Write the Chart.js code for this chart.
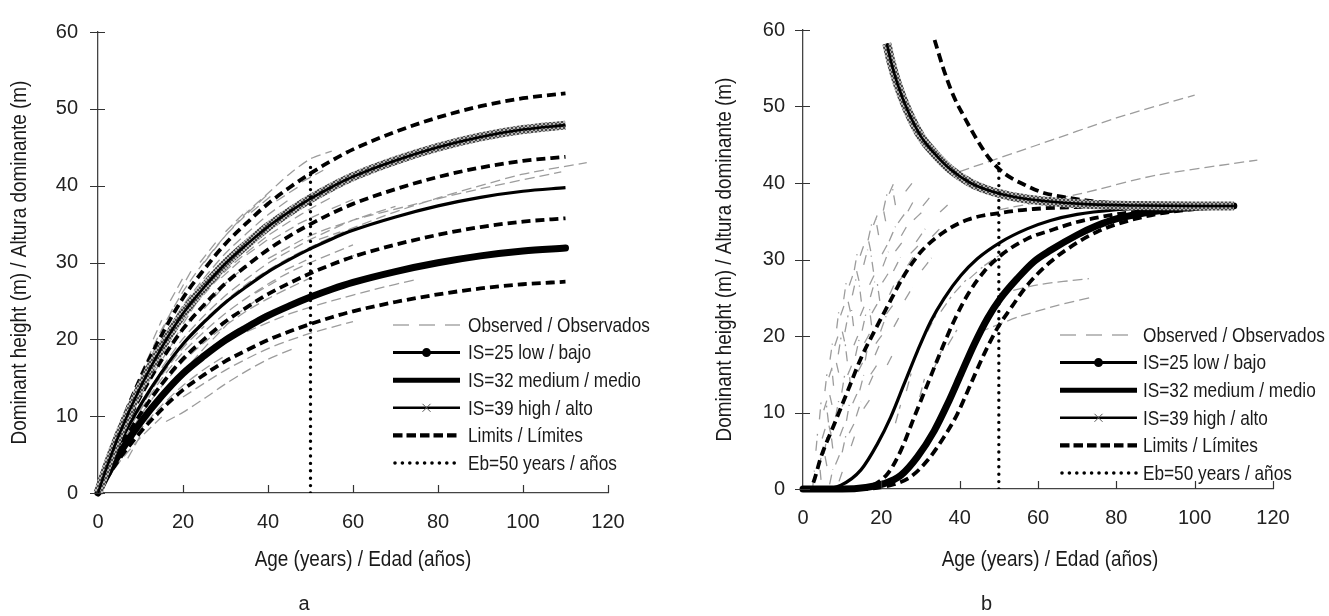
<!DOCTYPE html>
<html><head><meta charset="utf-8">
<script src="https://cdn.jsdelivr.net/npm/chart.js@4.4.1/dist/chart.umd.min.js"></script>
<style>
html,body{margin:0;padding:0;background:#fff;}
body{width:1329px;height:616px;position:relative;overflow:hidden;}
#wa{position:absolute;left:0;top:0;width:664px;height:616px;}
#wb{position:absolute;left:700px;top:0;width:629px;height:616px;}
canvas{display:block;}
</style></head><body>
<div id="wa"><canvas id="ca" width="664" height="616"></canvas></div>
<div id="wb"><canvas id="cb" width="629" height="616"></canvas></div>
<script>
// ---------- axis ticks ----------
const X_MIN = 0, X_MAX = 120, X_STEP = 20;
const Y_MIN = 0, Y_MAX = 60, Y_STEP = 10;

// ---------- labels ----------
const X_TITLE = 'Age (years) / Edad (años)';
const Y_TITLE = 'Dominant height (m) / Altura dominante (m)';
const LEGEND_LABELS = ['Observed / Observados','IS=25 low / bajo','IS=32 medium / medio','IS=39 high / alto','Limits / Límites','Eb=50 years / años'];

// ---------- panel a : curves ----------
const A_AGE  = [0,2,5,10,15,20,25,30,35,40,45,50,55,60,70,80,90,100,110];
const A_L1   = [0,1.87,4.4,7.92,10.89,13.42,15.4,17.16,18.59,19.91,21.01,22,22.88,23.65,24.86,25.85,26.62,27.17,27.5];
const A_IS25 = [0,2.17,5.1,9.18,12.62,15.56,17.85,19.89,21.55,23.08,24.35,25.5,26.52,27.41,28.82,29.96,30.86,31.49,31.88];
const A_L2   = [0,2.43,5.72,10.3,14.16,17.45,20.02,22.31,24.17,25.88,27.31,28.6,29.74,30.75,32.32,33.6,34.61,35.32,35.75];
const A_IS32 = [0,2.7,6.36,11.45,15.74,19.4,22.26,24.8,26.87,28.78,30.37,31.8,33.07,34.19,35.93,37.37,38.48,39.27,39.75];
const A_L3   = [0,2.98,7,12.6,17.33,21.35,24.5,27.3,29.58,31.68,33.43,35,36.4,37.63,39.55,41.13,42.35,43.23,43.75];
const A_IS39 = [0,3.26,7.66,13.79,18.96,23.36,26.81,29.87,32.36,34.66,36.58,38.3,39.83,41.17,43.28,45,46.34,47.3,47.88];
const A_L4   = [0,3.54,8.32,14.98,20.59,25.38,29.12,32.45,35.15,37.65,39.73,41.6,43.26,44.72,47.01,48.88,50.34,51.38,52.0];
const A_EB_AGE = [50,50];
const A_EB_H   = [0,42.5];

// panel a : observed profiles (ages / heights)
const A_OBS_AGE = [
  [0,5,10,15,20,25,30,35,40,45,50,55,60,70,80,90,100,115],
  [40,50,60,74,90,109],
  [16,20,25,30,35,40,46],
  [0,5,10,15,20,25,30,35,40,45],
  [10,15,20,25,30,35,40],
  [5,10,15,20,25,30,35,40,45,50,55],
  [0,5,10,15,20,25,30,35],
  [10,15,20,25,30,35,40,45,50,60],
  [5,10,15,20,25,30,35,40,45,50],
  [0,5,10,15,20,25,30,35,40],
  [5,10,15,20,25,30],
  [20,25,30,35,40,45,50,55,60],
  [15,20,25,30,35,40,45,50,60,70],
  [0,5,10,15,20,25],
  [25,30,35,40,45,50,55],
  [0,5,10,15],
  [35,45,55,65,75],
  [20,30,40,50,60]
];
const A_OBS_H = [
  [0,5.5,11,15.5,19.5,22.5,25,27.2,29,30.6,32,33.3,34.5,36.6,38.4,40,41.5,43],
  [30.5,33.5,35.5,37.5,39.6,41.8],
  [9.3,10.5,12.3,14.2,15.9,17.4,18.8],
  [0,8,14.4,19.8,24.4,28,31.2,33.8,36.2,38.2],
  [15.5,21.3,26.2,30.1,33.5,36.3,38.9],
  [7.4,13.3,18.3,22.6,25.9,28.9,31.3,33.5,35.3,37,38.5],
  [0,7,12.6,17.3,21.4,24.5,27.3,29.6],
  [10.8,14.9,18.3,21,23.4,25.4,27.2,28.7,30,32.3],
  [5.6,10.1,13.9,17.1,19.6,21.8,23.7,25.3,26.7,28],
  [0,5.2,9.4,12.9,15.9,18.2,20.3,22,23.5],
  [4.6,8.3,11.4,14,16.1,17.9],
  [23.5,27,30,32.5,34.8,36.8,38.5,40,41.4],
  [16.3,20.1,23.1,25.7,27.9,29.9,31.5,33,35.5,37.3],
  [0,6.2,11.2,15.3,18.9,21.7],
  [30,33.5,36.5,39,41.5,43.5,44.5],
  [0,4,7.2,9.9],
  [21,23.3,25,26.5,27.8],
  [12.5,16,18.8,20.8,22.3]
];
// panel a : short observed segments (start age, start height, end age, end height)
const A_SEG_A0 = [6,8,7,12,14,11,16,18,15,20,22,19,25,27,24,29,32,30,35,37,36,41,44,42,47,48,52,55,58,28,3,4,9,13,17];
const A_SEG_H0 = [6,10,4.5,13,10,16,18,14,21,22,17,26,24,20,30,28,23,34,31,26,36.5,33,29,38,35,40.5,33,37,30.5,19.5,3,7,12,20,25];
const A_SEG_A1 = [9,11,10,15,17,14,19,21,18,24,26,22,29,31,28,34,37,35,40,42,41,46,49,47,52,53,57,60,63,33,5,6,11,15,20];
const A_SEG_H1 = [9.5,13.5,7.5,16,12.5,19.5,21,16.5,24.5,25.5,19.5,29,26.5,22.3,32.8,30.5,25,36.8,33,27.6,38.8,34.6,30.3,39.8,36.3,42,34,38.2,31.4,21.3,5.5,10,14.5,22.5,28];

// ---------- panel b : curves ----------
const B_IS39_AGE = [21.4,22.4,24.1,26.7,30.1,33.5,37.7,42.8,47.9,54.7,61.5,73.4,85,100,110];
const B_IS39_H   = [58.25,56,53,49.5,46.1,43.9,41.75,40,38.95,38.1,37.65,37.2,37.05,37,37];
const B_L4_AGE   = [33.6,36,38.5,41.1,44.5,47.9,51.3,56.4,61.5,67.4,73.4,85,100,110];
const B_L4_H     = [58.7,54.7,51.3,48.7,45.6,43,41.3,39.8,38.7,38.1,37.65,37.2,37.05,37];
const B_L3_AGE   = [0,1.5,2.5,4.6,8,11.4,14.8,18.2,22,25.8,30.1,36,42,50.4,58.9,70,80,95,110];
const B_L3_H     = [0,0,0.65,4.2,8.5,12.8,17.1,20.6,24.3,27.9,31,33.6,35.2,36.1,36.6,36.85,36.95,37,37];
const B_IS32_AGE = [0,5,9.7,14.8,19,22.4,25.8,29.2,32.6,36,40.3,44.5,50.4,57.2,63.2,70,80,90,100,110];
const B_IS32_H   = [0,0,0.5,2.5,5.9,9.4,13.7,18,21.9,24.9,27.9,30.1,32.25,34,35.1,35.9,36.5,36.8,36.95,37];
const B_L2_AGE   = [0,10,16.5,21.6,25,28.4,31.8,35.2,38.5,42,46.2,50.4,57.2,63.2,70,80,90,100,110];
const B_L2_H     = [0,0,0.3,2,5.05,9.4,13.7,18,21.9,25.35,28.4,30.5,32.7,33.8,34.9,35.9,36.5,36.85,37];
const B_IS25_AGE = [0,10,16,20.7,25,29.2,33.5,36.9,40.3,43.7,47.1,50.4,54.7,58.9,63.2,70,75,80,90,100,110];
const B_IS25_H   = [0,0,0.2,0.7,1.8,4.2,7.6,11.1,15,18.9,22.3,24.9,27.5,29.7,31.2,33.2,34.4,35.3,36.3,36.8,37];
const B_L1_AGE   = [0,15,22.4,27.5,31.8,36,39.4,42.8,46.2,49.6,53,57.2,63.2,70,75,80,90,100,110];
const B_L1_H     = [0,0,0.5,1.6,3.75,6.8,9.8,13.7,17.6,21,23.6,26.6,29.7,32.2,33.6,34.6,35.9,36.6,36.9];
const B_EB_AGE = [50,50];
const B_EB_H   = [0,43];

// panel b : short observed strokes (start age, start height, end age, end height)
const B_SEG_A0 = [2.5,4.6,6.8,9.2, 3.3,5.4,7.6,10.0,12.3, 4.2,6.5,8.3,11.1,13.6, 5.6,7.8,9.9,12.2,14.5,16.8,
  6.9,9.0,11.3,13.4,15.9,18.4,21.5, 8.6,10.7,12.9,15.1,17.5,19.8,23.2, 10.4,12.6,14.9,17.2,19.6,22.1,26.0,
  13.1,15.5,18.0,20.4,23.1,26.7,30.4, 16.6,19.3,22.0,25.1,28.9,33.0, 20.5,23.6,26.8,30.6,35.0,
  23.6,26.4,28.7,31.8,35.2,38.6,42.5,46.3,29.8,33.5,37.0,
  3.9,6.1,8.3, 4.9,7.2,9.4,11.8, 5.3,7.4,10.0,12.7,15.5, 6.6,9.1,11.4,14.0,17.3, 8.1,10.6,13.0,15.7,18.6,
  9.6,12.1,14.6,17.6,21.3, 11.8,14.3,17.0,20.3,24.0, 14.6,17.3,20.2,23.6,27.5, 18.0,21.1,24.3,28.3, 22.0,26.2];
const B_SEG_H0 = [0.3,1.2,0.6,1.0, 5.0,4.6,5.3,4.8,5.6, 9.1,8.7,9.4,8.9,9.5, 12.8,13.5,12.6,13.3,12.9,13.6,
  16.9,17.6,16.7,17.4,16.8,17.5,16.2, 21.0,20.5,21.3,20.7,21.4,20.6,21.2, 24.8,25.3,24.5,25.1,24.6,25.4,24.7,
  28.6,29.3,28.4,29.1,28.5,29.2,28.6, 32.5,33.2,32.4,33.1,32.3,33.0, 36.4,37.1,36.3,37.0,36.2,
  8.6,12.8,17.3,20.6,23.2,25.6,27.5,29.2,12.0,15.8,18.8,
  2.8,3.0,3.2, 6.6,7.0,6.9,7.3, 10.3,11.0,10.8,11.2,10.5, 14.6,15.2,14.9,15.3,15.0, 18.7,19.3,18.8,19.1,19.0,
  22.7,23.2,22.6,23.0,22.9, 26.6,27.2,26.7,27.0,26.9, 30.5,31.1,30.7,31.1,30.8, 34.5,35.0,34.8,35.2, 38.6,38.9];
const B_SEG_A1 = [2.9,4.2,7.6,10.4, 3.7,6.1,7.1,10.9,13.5, 4.6,6.0,9.1,11.8,14.8, 6.1,7.4,10.6,11.7,15.5,18.3,
  7.5,9.7,10.8,14.3,16.6,19.9,23.2, 9.1,11.5,12.4,16.0,17.0,21.2,25.0, 11.0,13.5,14.4,18.3,19.0,23.7,28.0,
  13.8,16.5,17.4,21.8,24.9,28.7,32.8, 17.5,18.6,23.6,27.0,31.2,35.6, 21.4,22.9,28.6,32.8,37.5,
  24.9,27.6,30.6,33.9,37.8,41.6,45.8,50.0,31.0,35.3,39.3,
  4.9,5.4,9.6, 5.9,6.4,10.6,13.2, 6.4,6.6,11.3,14.0,17.2, 7.7,8.3,12.7,15.4,19.0, 9.2,9.8,14.3,17.2,20.4,
  10.7,11.3,15.9,19.2,23.2, 12.9,13.5,18.4,21.9,26.0, 15.7,16.6,21.7,25.4,29.6, 19.1,20.5,26.0,30.4, 23.2,27.9];
const B_SEG_H1 = [2.4,3.4,2.6,2.8, 7.2,6.8,7.4,6.9,7.4, 11.3,10.9,11.5,11.0,11.4, 15.0,15.6,14.8,15.4,14.9,15.3,
  19.0,19.8,18.9,19.5,19.0,19.3,17.9, 23.1,22.7,23.4,22.8,23.5,22.6,22.9, 26.9,27.4,26.6,27.1,26.8,27.2,26.4,
  30.7,31.3,30.5,31.0,30.3,30.8,30.2, 34.6,35.2,34.3,34.8,34.0,34.4, 38.5,39.2,38.0,38.4,37.4,
  11.0,15.1,19.5,22.7,25.1,27.3,29.0,30.5,14.4,18.0,20.8,
  4.6,4.9,4.8, 8.3,8.8,8.5,8.7, 12.1,12.8,12.4,12.7,11.8, 16.3,17.0,16.5,16.7,16.3, 20.4,21.1,20.4,20.5,20.3,
  24.3,25.0,24.2,24.4,24.2, 28.2,28.9,28.2,28.3,28.1, 32.1,32.8,32.1,32.3,31.9, 36.0,36.6,36.0,36.2, 40.0,40.0];
// panel b : longer observed profiles
const B_OBS_AGE = [[40,60,80,100],[50,70,90,116],[45,55,65,74],[50,60,73]];
const B_OBS_H   = [[41.5,45,48.5,51.5],[36.5,38.5,41,43],[20.5,22.5,24,25.1],[25.5,26.7,27.5]];

// ---------- helpers ----------
const SANS = "'Liberation Sans',Arial,Helvetica,sans-serif";
function pts(ages, hs){ return ages.map((a,i)=>({x:a,y:hs[i]})); }
function segs(ageList, hList, a0, h0, a1, h1){
  const out = [];
  const push = (arr)=>{ if (out.length) out.push({x:arr[0].x, y:null}); arr.forEach(p=>out.push(p)); };
  ageList.forEach((ages,k)=>push(ages.map((a,i)=>({x:a, y:hList[k][i]}))));
  a0.forEach((a,i)=>push([{x:a,y:h0[i]},{x:a1[i],y:h1[i]}]));
  return out;
}
// cross-hatch texture imitating the dense "x" markers of the IS=39 curve
function hatch(){
  const c = document.createElement('canvas'); c.width = 4; c.height = 4;
  const g = c.getContext('2d');
  g.fillStyle = '#b4b4b4'; g.fillRect(0,0,4,4);
  g.fillStyle = '#4a4a4a';
  for (let i=0;i<4;i++){ g.fillRect(i,i,1,1); g.fillRect(3-i,i,1,1); }
  return g.createPattern(c,'repeat');
}

const tickMarks = {
  id:'tickMarks',
  afterDraw(chart){
    const {ctx, scales:{x,y}, chartArea:ca} = chart;
    ctx.save(); ctx.strokeStyle='#333'; ctx.lineWidth=1.2; ctx.beginPath();
    y.ticks.forEach(t=>{ const py=Math.round(y.getPixelForValue(t.value))+0.5; ctx.moveTo(ca.left-8,py); ctx.lineTo(ca.left+7,py); });
    x.ticks.forEach(t=>{ if (t.value===0) return; const px=Math.round(x.getPixelForValue(t.value))+0.5; ctx.moveTo(px,ca.bottom-8); ctx.lineTo(px,ca.bottom); });
    ctx.stroke(); ctx.restore();
  }
};

const axisTitles = {
  id:'axisTitles',
  afterDraw(chart, args, o){
    const ctx = chart.ctx, ca = chart.chartArea;
    ctx.save();
    ctx.fillStyle='#1a1a1a'; ctx.font='22px '+SANS; ctx.textBaseline='middle'; ctx.textAlign='center';
    ctx.translate((ca.left+ca.right)/2 + o.xdx, o.xy); ctx.scale(0.86,1); ctx.fillText(X_TITLE,0,0);
    ctx.restore();
    ctx.save();
    ctx.fillStyle='#1a1a1a'; ctx.font='22px '+SANS; ctx.textBaseline='middle'; ctx.textAlign='center';
    ctx.translate(o.yx, (ca.top+ca.bottom)/2); ctx.rotate(-Math.PI/2); ctx.scale(0.86,1); ctx.fillText(Y_TITLE,0,0);
    ctx.restore();
  }
};

const sketchLegend = {
  id:'sketchLegend',
  afterDraw(chart, args, o){
    const ctx = chart.ctx;
    const x0 = o.x, x1 = o.x + o.w, xm = (x0+x1)/2;
    LEGEND_LABELS.forEach((lab,i)=>{
      const yy = o.y + i*o.gap;
      ctx.save();
      ctx.lineCap = 'butt';
      const line = ()=>{ ctx.beginPath(); ctx.moveTo(x0,yy); ctx.lineTo(x1,yy); ctx.stroke(); };
      if (i===0){ ctx.strokeStyle='#a8a8a8'; ctx.lineWidth=1.5; ctx.setLineDash([16,10]); line(); }
      if (i===1){ ctx.strokeStyle='#000'; ctx.lineWidth=3; line(); ctx.fillStyle='#000'; ctx.beginPath(); ctx.arc(xm,yy,4.5,0,Math.PI*2); ctx.fill(); }
      if (i===2){ ctx.strokeStyle='#000'; ctx.lineWidth=5; line(); }
      if (i===3){ ctx.strokeStyle='#000'; ctx.lineWidth=2.6; line(); ctx.strokeStyle='#555'; ctx.lineWidth=1; ctx.beginPath(); ctx.moveTo(xm-4,yy-4); ctx.lineTo(xm+4,yy+4); ctx.moveTo(xm-4,yy+4); ctx.lineTo(xm+4,yy-4); ctx.stroke(); }
      if (i===4){ ctx.strokeStyle='#000'; ctx.lineWidth=4.2; ctx.setLineDash([9.5,4]); line(); }
      if (i===5){ ctx.strokeStyle='#000'; ctx.lineWidth=3.6; ctx.lineCap='round'; ctx.setLineDash([0,7.4]); ctx.beginPath(); ctx.moveTo(x0+2,yy); ctx.lineTo(x1,yy); ctx.stroke(); }
      ctx.restore();
      ctx.save();
      ctx.fillStyle='#1a1a1a'; ctx.font='21px '+SANS; ctx.textBaseline='middle'; ctx.textAlign='left';
      ctx.translate(x1 + o.tx, yy + 1); ctx.scale(0.82,1);
      ctx.fillText(lab, 0, 0);
      ctx.restore();
    });
  }
};

function makeChart(canvasId, panel, datasets, cfg){
  return new Chart(document.getElementById(canvasId), {
    type:'line',
    data:{datasets},
    plugins:[tickMarks, axisTitles, sketchLegend],
    options:{
      responsive:false, animation:false, devicePixelRatio:1,
      layout:{padding:{left:0, right:cfg.right, top:cfg.top, bottom:0}},
      elements:{point:{radius:0, hoverRadius:0}, line:{cubicInterpolationMode:'monotone'}},
      events:[],
      plugins:{
        legend:{display:false}, tooltip:{enabled:false},
        title:{display:true, position:'bottom', text:panel, color:'#222', font:{family:SANS, size:20, weight:'normal'}, padding:0},
        sketchLegend:cfg.legend,
        axisTitles:cfg.titles
      },
      scales:{
        x:{type:'linear', min:X_MIN, max:X_MAX,
           ticks:{stepSize:X_STEP, padding:17, color:'#222', font:{family:SANS,size:20}, maxRotation:0},
           grid:{display:false, drawTicks:false}, border:{display:true, color:'#444', width:1.3},
           title:{display:false},
           afterFit(s){ s.height = cfg.xh; }},
        y:{type:'linear', min:Y_MIN, max:Y_MAX,
           ticks:{stepSize:Y_STEP, padding:cfg.ypad, color:'#222', font:{family:SANS,size:20}},
           grid:{display:false, drawTicks:false}, border:{display:true, color:'#444', width:1.3},
           title:{display:false},
           afterFit(s){ s.width = cfg.yw; }}
      }
    }
  });
}

function curveSets(d){
  const dashed = (data)=>({data, borderColor:'#000', borderWidth:3.8, borderDash:[9,5], fill:false, clip:false});
  return [
    {data:d.eb, borderColor:'#000', borderWidth:3.4, borderDash:[0,7.4], borderCapStyle:'round', fill:false, cubicInterpolationMode:'default', tension:0},
    {data:d.is39, borderColor:'#000', borderWidth:2.6, fill:false, clip:false},
    {data:d.is39, borderColor:hatch(), borderWidth:9, fill:false, clip:false},
    {data:d.is32, borderColor:'#000', borderWidth:3.2, fill:false, clip:false},
    {data:d.is25, borderColor:'#000', borderWidth:7, borderCapStyle:'round', fill:false, clip:false},
    dashed(d.l1), dashed(d.l2), dashed(d.l3), dashed(d.l4),
    {data:d.obs, borderColor:'#9c9c9c', borderWidth:1.3, borderDash:[10,5], fill:false, spanGaps:false, cubicInterpolationMode:'default', tension:0.25}
  ];
}

makeChart('ca','a', curveSets({
  eb:pts(A_EB_AGE,A_EB_H), is39:pts(A_AGE,A_IS39), is32:pts(A_AGE,A_IS32), is25:pts(A_AGE,A_IS25),
  l1:pts(A_AGE,A_L1), l2:pts(A_AGE,A_L2), l3:pts(A_AGE,A_L3), l4:pts(A_AGE,A_L4),
  obs:segs(A_OBS_AGE,A_OBS_H,A_SEG_A0,A_SEG_H0,A_SEG_A1,A_SEG_H1)
}), {right:56, top:25, xh:99, yw:98, ypad:20, legend:{x:393, w:67, tx:8, y:325, gap:27.6}, titles:{xdx:10, xy:560, yx:20}});

makeChart('cb','b', curveSets({
  eb:pts(B_EB_AGE,B_EB_H), is39:pts(B_IS39_AGE,B_IS39_H), is32:pts(B_IS32_AGE,B_IS32_H), is25:pts(B_IS25_AGE,B_IS25_H),
  l1:pts(B_L1_AGE,B_L1_H), l2:pts(B_L2_AGE,B_L2_H), l3:pts(B_L3_AGE,B_L3_H), l4:pts(B_L4_AGE,B_L4_H),
  obs:segs(B_OBS_AGE,B_OBS_H,B_SEG_A0,B_SEG_H0,B_SEG_A1,B_SEG_H1)
}), {right:56, top:26, xh:103, yw:103, ypad:18, legend:{x:360, w:77, tx:6, y:335, gap:27.6}, titles:{xdx:12, xy:560, yx:25}});
</script>
</body></html>
